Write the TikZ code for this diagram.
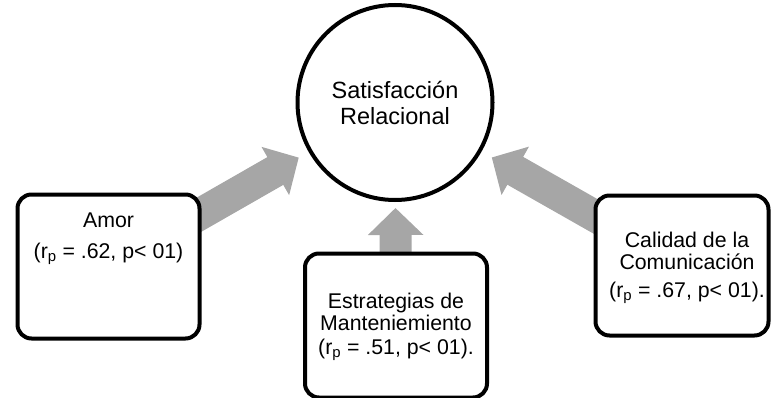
\documentclass[tikz,border=0pt]{standalone}
\usepackage{fontspec}
\setmainfont{Liberation Sans}
\usetikzlibrary{positioning,arrows.meta,backgrounds}
\definecolor{arrowGray}{HTML}{A6A6A6}

\begin{document}
\begin{tikzpicture}[x=1pt, y=1pt]
                        \useasboundingbox (0,0) rectangle (771,397);

                        \node[circle, draw, line width=4pt, fill=white, minimum size=195pt, inner sep=0pt, outer sep=0pt, align=center, font=\fontsize{23.5}{26}\selectfont] (1) at (395,294.5) {Satisfacción\\Relacional};
                        \node[rectangle, rounded corners=14pt, draw, line width=4pt, fill=white, minimum width=182pt, minimum height=144pt, outer sep=0pt] (2) at (108.5,130.5) {};
                        \node[rectangle, rounded corners=14pt, draw, line width=4pt, fill=white, minimum width=182pt, minimum height=144pt, outer sep=0pt] (3) at (396,71.5) {};
                        \node[rectangle, rounded corners=14pt, draw, line width=4pt, fill=white, minimum width=173pt, minimum height=140pt, outer sep=0pt] (4) at (682,131.5) {};

                        \node[align=center, inner sep=0pt, font=\fontsize{21.3}{22}\selectfont] (5) [below=18pt of 2.north] {Amor\\[9pt](r\textsubscript{p} = .62, p< 01)};
                        \node[align=center, inner sep=0pt, font=\fontsize{21.3}{22}\selectfont] (6) [below=39pt of 3.north] {Estrategias de\\Manteniemiento\\[2pt](r\textsubscript{p} = .51, p< 01).};
                        \node[align=center, inner sep=0pt, font=\fontsize{21.3}{22}\selectfont] (7) [below=36pt of 4.north, xshift=5pt] {Calidad de la\\Comunicación\\[6pt](r\textsubscript{p} = .67, p< 01).};

                        \begin{scope}[on background layer]
                        \path[every edge/.style={draw, arrowGray, line width=32pt, -{Triangle[width=54pt, length=27pt]}}]
                            (2.center) edge[shorten >=13.4pt] (1)
                            (3.center) edge[shorten >=8pt] (1)
                            (4.center) edge[shorten >=13.8pt] (1)
                        ;
                        \end{scope}
                    \end{tikzpicture}
\end{document}
